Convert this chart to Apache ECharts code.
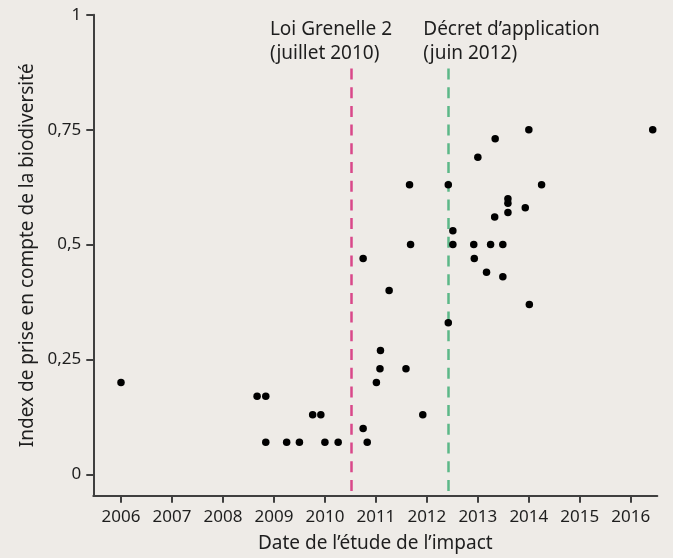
<!DOCTYPE html>
<html>
<head>
<meta charset="utf-8">
<script src="https://cdn.jsdelivr.net/npm/echarts@6/dist/echarts.min.js"></script>
<style>
html,body{margin:0;padding:0;background:#eeebe7;}
#chart{width:673px;height:558px;}
</style>
</head>
<body>
<div id="chart"></div>
<script>
// Study dates (decimal years) and biodiversity index values
var studyDates = [2006.0, 2008.67, 2008.84, 2008.84, 2009.25, 2009.5, 2009.76, 2009.92, 2010.0, 2010.26,
  2010.75, 2010.75, 2010.83, 2011.01, 2011.08, 2011.09, 2011.26, 2011.59, 2011.66, 2011.68,
  2011.92, 2012.42, 2012.42, 2012.51, 2012.51, 2012.92, 2012.93, 2013.0, 2013.17, 2013.25,
  2013.33, 2013.34, 2013.49, 2013.49, 2013.59, 2013.59, 2013.59, 2013.93, 2014.0, 2014.01,
  2014.25, 2016.43];
var indexValues = [0.2, 0.17, 0.17, 0.07, 0.07, 0.07, 0.13, 0.13, 0.07, 0.07,
  0.47, 0.1, 0.07, 0.2, 0.23, 0.27, 0.4, 0.23, 0.63, 0.5,
  0.13, 0.63, 0.33, 0.53, 0.5, 0.5, 0.47, 0.69, 0.44, 0.5,
  0.56, 0.73, 0.5, 0.43, 0.6, 0.59, 0.57, 0.58, 0.75, 0.37,
  0.63, 0.75];
var xTicks = [2006, 2007, 2008, 2009, 2010, 2011, 2012, 2013, 2014, 2015, 2016];
var yTicks = [0, 0.25, 0.5, 0.75, 1];
var yTickLabels = ['0', '0,25', '0,5', '0,75', '1'];
var eventNames = ['Loi Grenelle 2\n(juillet 2010)', 'Décret d\u2019application\n(juin 2012)'];
var eventDates = [2010.52, 2012.42];
var eventLineTop = 0.883;
var xRange = [2005.457, 2016.52];
var yRange = [-0.046, 1];

var FONT = 'Noto Sans';
var TXT = '#1e1e1e';
var AX = '#3f3f3f';

var points = studyDates.map(function (d, i) { return [d, indexValues[i]]; });

var chart = echarts.init(document.getElementById('chart'), null, {renderer: 'canvas'});
chart.setOption({
  backgroundColor: '#eeebe7',
  animation: false,
  textStyle: {fontFamily: FONT, color: TXT},
  grid: {left: 93.3, right: 15.7, top: 14.7, bottom: 62.3, containLabel: false},
  xAxis: {
    type: 'value', min: xRange[0], max: xRange[1],
    name: 'Date de l\u2019étude de l\u2019impact',
    nameLocation: 'middle', nameGap: 38,
    nameTextStyle: {fontFamily: FONT, fontSize: 19, color: TXT},
    axisLine: {show: true, onZero: false, lineStyle: {color: AX, width: 2}},
    axisTick: {show: true, length: 7, customValues: xTicks, lineStyle: {color: AX, width: 2}},
    axisLabel: {customValues: xTicks, margin: 13, fontFamily: FONT, fontSize: 17, color: TXT,
      formatter: function (v) { return String(Math.round(v)); }},
    splitLine: {show: false}
  },
  yAxis: {
    type: 'value', min: yRange[0], max: yRange[1],
    name: 'Index de prise en compte de la biodiversité',
    nameLocation: 'middle', nameGap: 55,
    nameTextStyle: {fontFamily: FONT, fontSize: 19, color: TXT},
    axisLine: {show: true, onZero: false, lineStyle: {color: AX, width: 2}},
    axisTick: {show: true, length: 7, customValues: yTicks, lineStyle: {color: AX, width: 2}},
    axisLabel: {customValues: yTicks, margin: 12, fontFamily: FONT, fontSize: 17, color: TXT,
      formatter: function (v) {
        var i = yTicks.indexOf(Math.round(v * 100) / 100);
        return i >= 0 ? yTickLabels[i] : '';
      }},
    splitLine: {show: false}
  },
  series: [
    {
      type: 'scatter',
      data: points,
      symbol: 'circle',
      symbolSize: 7.5,
      itemStyle: {color: '#000000', opacity: 1},
      z: 5,
      markLine: {
        silent: true,
        symbol: ['none', 'none'],
        label: {show: false},
        data: [
          [{coord: [eventDates[0], eventLineTop], lineStyle: {color: '#d9488a', width: 2.5, type: [11, 7.7], opacity: 1}},
           {coord: [eventDates[0], yRange[0]]}],
          [{coord: [eventDates[1], eventLineTop], lineStyle: {color: '#5cb888', width: 2.5, type: [11, 7.7], opacity: 1}},
           {coord: [eventDates[1], yRange[0]]}]
        ]
      }
    },
    {
      type: 'scatter',
      symbolSize: 0,
      silent: true,
      data: [
        {value: [eventDates[0], eventLineTop], label: {position: [-81.5, -51]}},
        {value: [eventDates[1], eventLineTop], label: {position: [-25, -51]}}
      ],
      label: {
        show: true,
        align: 'left', verticalAlign: 'top',
        fontFamily: FONT, fontSize: 19, lineHeight: 24, color: TXT, opacity: 1,
        formatter: function (p) { return eventNames[p.dataIndex]; }
      },
      itemStyle: {color: 'rgba(0,0,0,0)', opacity: 1}
    }
  ]
});
</script>
</body>
</html>
